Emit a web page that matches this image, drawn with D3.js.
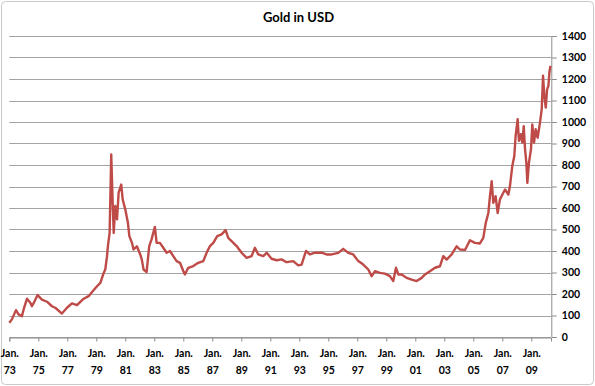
<!DOCTYPE html>
<html>
<head>
<meta charset="utf-8">
<script src="https://cdn.jsdelivr.net/npm/d3@7"></script>
<style>
  html, body { margin: 0; padding: 0; background: #fff; }
  svg text { font-family: Lato, "Open Sans", sans-serif; font-weight: bold; fill: #000; }
</style>
</head>
<body>
<div id="chart"></div>
<script>
// gold price, USD per ounce (decimal year -> price)
const years1970s = [1973.00, 1973.18, 1973.46, 1973.64, 1973.87, 1973.99, 1974.22, 1974.45, 1974.56, 1974.75, 1974.95,
  1975.25, 1975.60, 1975.94, 1976.17, 1976.63, 1976.98, 1977.32, 1977.67, 1978.13, 1978.47, 1978.75,
  1979.05, 1979.28, 1979.51, 1979.62, 1979.74, 1979.80, 1979.92];
const prices1970s = [66, 82, 125, 105, 97, 128, 178, 159, 143, 167, 195,
  174, 164, 143, 136, 109, 136, 156, 148, 178, 190, 213,
  236, 252, 298, 314, 376, 423, 484];

const years1980s = [1980.03, 1980.13, 1980.20, 1980.31, 1980.43, 1980.54, 1980.72, 1980.82, 1981.00, 1981.18, 1981.28,
  1981.46, 1981.57, 1981.80, 1982.03, 1982.14, 1982.26, 1982.47, 1982.65, 1982.81, 1983.04, 1983.16,
  1983.39, 1983.62, 1983.85, 1984.08, 1984.31, 1984.54, 1984.77, 1985.00, 1985.11, 1985.34, 1985.69,
  1986.03, 1986.38, 1986.61, 1986.84, 1987.07, 1987.34, 1987.64, 1987.92, 1988.10, 1988.33, 1988.68,
  1989.02, 1989.37, 1989.71, 1989.94];
const prices1980s = [849, 624, 484, 609, 547, 671, 709, 640, 593, 531, 469,
  438, 407, 422, 384, 360, 314, 302, 423, 454, 512, 438,
  438, 415, 392, 400, 376, 353, 345, 307, 291, 322, 330,
  345, 353, 392, 423, 438, 469, 477, 497, 461, 446, 423,
  392, 368, 376, 415];

const years1990s = [1990.17, 1990.52, 1990.75, 1991.09, 1991.44, 1991.78, 1992.12, 1992.58, 1992.93, 1993.16, 1993.46,
  1993.73, 1994.08, 1994.54, 1994.88, 1995.23, 1995.69, 1996.03, 1996.38, 1996.72, 1997.07, 1997.41,
  1997.76, 1997.99, 1998.22, 1998.56, 1998.91, 1999.25, 1999.48, 1999.67, 1999.83];
const prices1990s = [384, 376, 392, 364, 357, 361, 348, 353, 333, 337, 400,
  384, 392, 392, 384, 384, 391, 410, 391, 384, 353, 337,
  314, 283, 306, 298, 295, 283, 260, 322, 291];

const years2000s = [2000.06, 2000.40, 2000.75, 2001.09, 2001.44, 2001.67, 2002.01, 2002.36, 2002.70, 2002.93, 2003.16,
  2003.51, 2003.85, 2004.08, 2004.43, 2004.77, 2005.11, 2005.46, 2005.69, 2005.86, 2006.04, 2006.15,
  2006.27, 2006.38, 2006.54, 2006.68, 2006.84, 2007.07, 2007.19, 2007.42, 2007.53, 2007.69, 2007.83,
  2007.92, 2008.06, 2008.15, 2008.29, 2008.38, 2008.48, 2008.57, 2008.66, 2008.73, 2008.84, 2008.98,
  2009.07, 2009.19, 2009.30, 2009.44, 2009.60, 2009.72, 2009.81, 2009.90, 2010.00, 2010.09, 2010.18,
  2010.25, 2010.32];
const prices2000s = [291, 275, 267, 260, 275, 291, 306, 322, 329, 376, 360,
  384, 422, 407, 405, 450, 438, 435, 461, 531, 577, 655,
  725, 624, 655, 577, 640, 671, 686, 663, 702, 795, 842,
  935, 1013, 912, 943, 904, 981, 873, 811, 717, 811, 873,
  989, 904, 966, 927, 997, 1059, 1215, 1121, 1067, 1152, 1168,
  1230, 1261];

const yTicks = [0, 100, 200, 300, 400, 500, 600, 700, 800, 900, 1000, 1100, 1200, 1300, 1400];
const xTickYears = [1973, 1975, 1977, 1979, 1981, 1983, 1985, 1987, 1989, 1991, 1993, 1995, 1997, 1999, 2001, 2003, 2005, 2007, 2009];
const title = "Gold in USD";

const width = 595, height = 386;
const margin = { top: 36, right: 44, bottom: 49, left: 9.3 };
const plotW = width - margin.left - margin.right;
const plotH = height - margin.top - margin.bottom;

const data = [];
[[years1970s, prices1970s], [years1980s, prices1980s], [years1990s, prices1990s], [years2000s, prices2000s]]
  .forEach(([ys, ps]) => ys.forEach((y, i) => data.push({ year: y, price: ps[i] })));

const svg = d3.select("#chart").append("svg")
  .attr("width", width)
  .attr("height", height);

// outer frame
svg.append("rect")
  .attr("x", 1.5).attr("y", 1.5)
  .attr("width", width - 3).attr("height", height - 3)
  .attr("rx", 4)
  .attr("fill", "#fff")
  .attr("stroke", "#c9c9c9");

svg.append("text")
  .attr("x", width / 2 + 1)
  .attr("y", 22)
  .attr("text-anchor", "middle")
  .style("font-size", "13px")
  .text(title);

const g = svg.append("g")
  .attr("transform", `translate(${margin.left},${margin.top})`);

const xScale = d3.scaleLinear().domain([1973, 2010.36]).range([0, plotW]);
const yScale = d3.scaleLinear().domain([0, 1400]).range([plotH, 0]);

// horizontal gridlines
g.append("g").selectAll("line")
  .data(yTicks)
  .join("line")
  .attr("x1", 0).attr("x2", plotW)
  .attr("y1", d => Math.round(yScale(d)) + 0.5)
  .attr("y2", d => Math.round(yScale(d)) + 0.5)
  .attr("stroke", "#a3a3a3");

// right value axis
const yAxis = d3.axisRight(yScale).tickValues(yTicks).tickFormat(d3.format("d")).tickSize(5).tickPadding(5);
const yAxisGroup = g.append("g")
  .attr("transform", `translate(${Math.round(plotW) + 0.5},0)`)
  .call(yAxis);
yAxisGroup.select(".domain").attr("stroke", "#8c8c8c").attr("d", `M0,${yScale(1400)}V${plotH}`);
yAxisGroup.selectAll(".tick line").attr("stroke", "#8c8c8c");
yAxisGroup.selectAll(".tick text").style("font-size", "10.5px");

// bottom date axis
const xAxis = d3.axisBottom(xScale).tickValues(xTickYears).tickSize(4).tickFormat("");
const xAxisGroup = g.append("g")
  .attr("transform", `translate(0,${Math.round(plotH) + 0.5})`)
  .call(xAxis);
xAxisGroup.select(".domain").attr("stroke", "#8c8c8c");
xAxisGroup.selectAll(".tick line").attr("stroke", "#8c8c8c");

const labels = xAxisGroup.selectAll(".tick").append("text")
  .attr("text-anchor", "middle")
  .style("font-size", "10.5px");
labels.append("tspan").attr("x", 0).attr("y", 19).text("Jan.");
labels.append("tspan").attr("x", 0).attr("y", 36).text(d => String(d % 100).padStart(2, "0"));

// price line
const line = d3.line()
  .x(d => xScale(d.year))
  .y(d => yScale(d.price));

g.append("path")
  .datum(data)
  .attr("fill", "none")
  .attr("stroke", "#be4b48")
  .attr("stroke-width", 2.4)
  .attr("stroke-linejoin", "round")
  .attr("d", line);
</script>
</body>
</html>
